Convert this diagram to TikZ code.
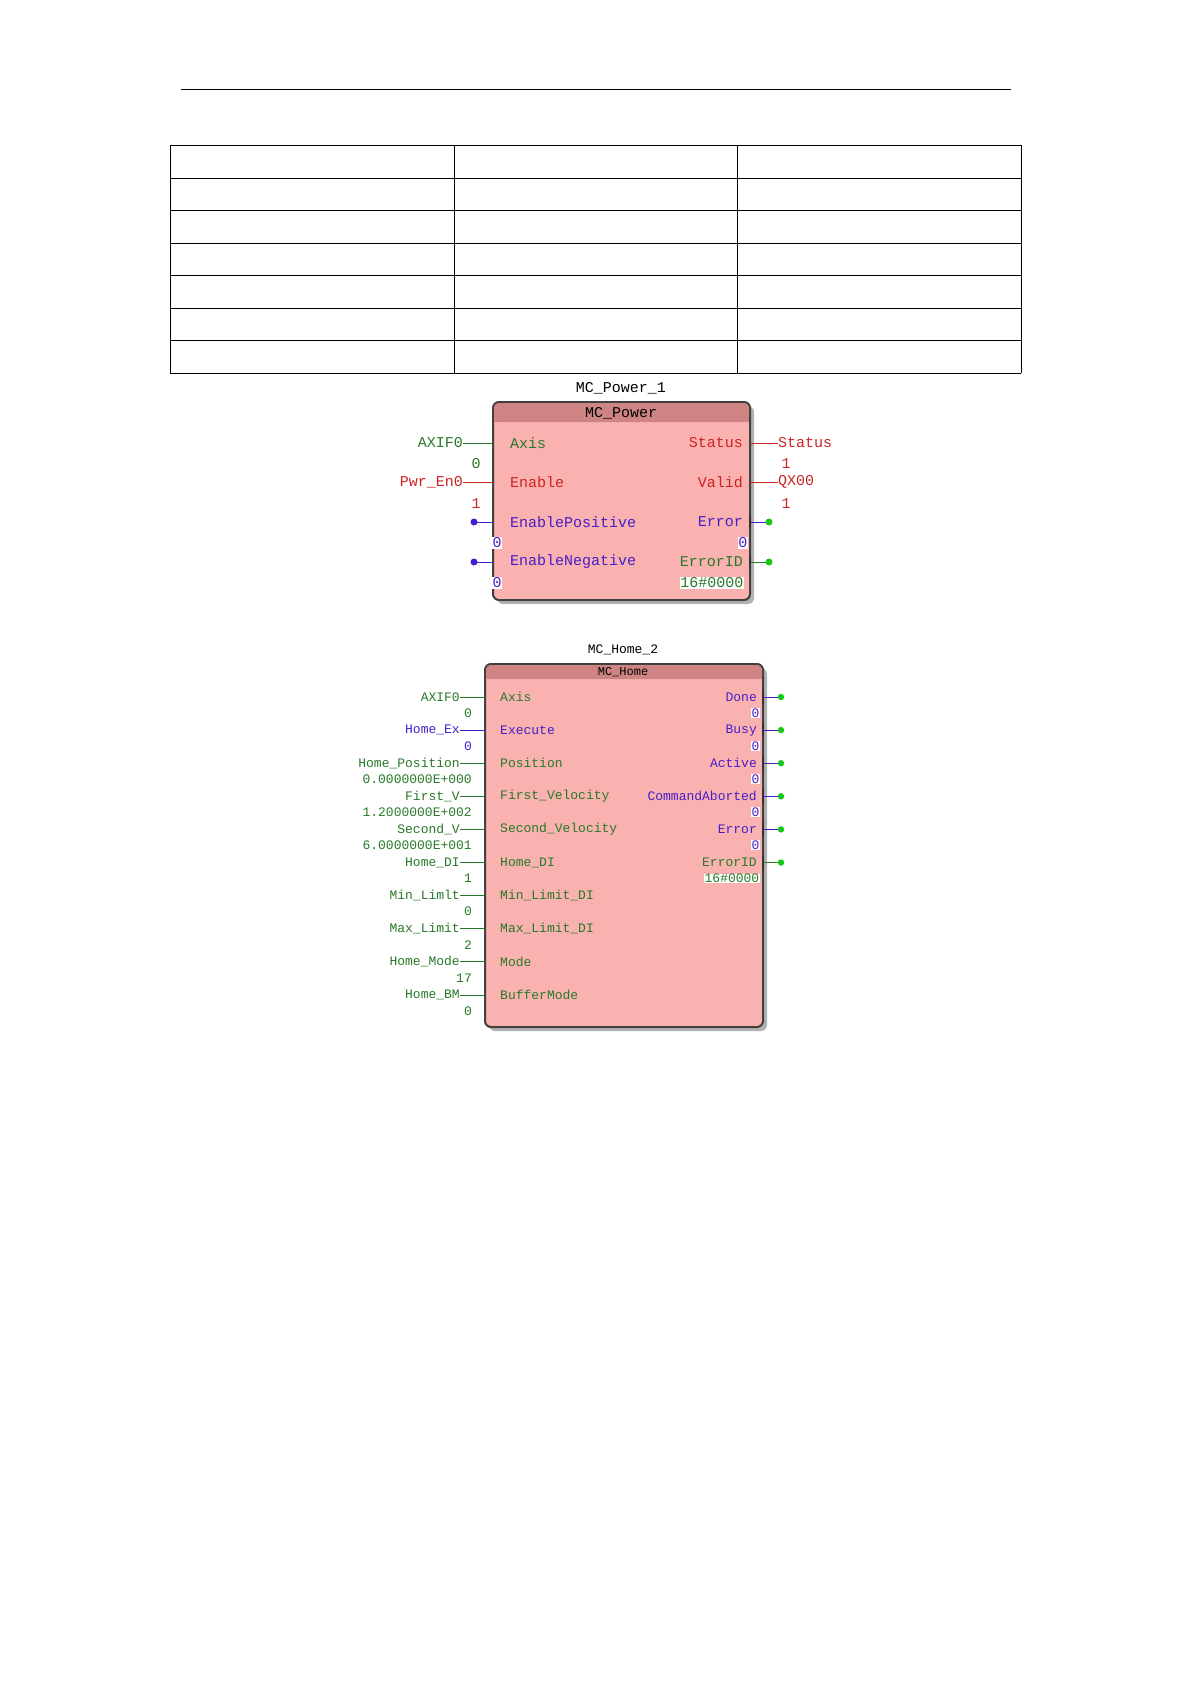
\documentclass[tikz,border=0pt]{standalone}
\usepackage{fontspec}
\setmainfont{Liberation Mono}
\usetikzlibrary{positioning}
\definecolor{fbpink}{RGB}{249,178,176}
\definecolor{fbhead}{RGB}{206,132,130}
\definecolor{fbgreen}{RGB}{40,120,40}
\definecolor{fbred}{RGB}{205,35,35}
\definecolor{fbblue}{RGB}{70,30,200}
\definecolor{fbdot}{RGB}{20,200,20}
\begin{document}
\begin{tikzpicture}[x=1pt,y=-1pt,
		txt/.style={inner sep=0pt, font=\fontsize{13}{13}\selectfont},
		big/.style={font=\fontsize{15}{15}\selectfont},
		pinl/.style={txt, anchor=west},
		pinr/.style={txt, anchor=east},
		val/.style={txt, anchor=east, fill=white, inner sep=0.5pt},
		fbox/.style={draw=black!75, line width=2pt, fill=fbpink, rounded corners=6pt},
		wire/.style={line width=0.8pt},
		]
		\useasboundingbox (0,0) rectangle (1191,1684);

		%Page line and table
		\draw[line width=0.6pt] (181,89) -- (1011,89);
		\foreach \y in {145,178,210,243,275,308,340,373}
			\draw[line width=0.8pt] (170,\y) -- (1021,\y);
		\foreach \x in {170,454,737,1021}
			\draw[line width=0.8pt] (\x,145) -- (\x,373);

		%MC_Power
		\fill[black!30, rounded corners=6pt] (497,406) rectangle (754,604);
		\draw[fbox] (493,402) rectangle (750,600);
		\fill[fbhead, rounded corners=5pt] (494,403) rectangle (749,422);
		\fill[fbhead] (494,412) rectangle (749,422);
		\node[txt, big]	(pw_name)	at (621,388)	{MC\_Power\_1};
		\node[txt, big]	(pw_type)	at (621,413)	{MC\_Power};

		\node[pinl, big, text=fbgreen]	(pw_axis)	at (510,443)	{Axis};
		\node[pinl, big, text=fbred]	(pw_en)		at (510,482)	{Enable};
		\node[pinl, big, text=fbblue]	(pw_ep)		at (510,522)	{EnablePositive};
		\node[pinl, big, text=fbblue]	(pw_en2)	at (510,562)	{EnableNegative};
		\node[pinr, big, text=fbred]	(pw_stat)	at (743,443)	{Status};
		\node[pinr, big, text=fbred]	(pw_valid)	at (743,482)	{Valid};
		\node[pinr, big, text=fbblue]	(pw_err)	at (743,522)	{Error};
		\node[pinr, big, text=fbgreen]	(pw_eid)	at (743,562)	{ErrorID};

		\coordinate (pw_l1) at (493,443);
		\coordinate (pw_l2) at (493,482);
		\coordinate (pw_l3) at (493,522);
		\coordinate (pw_l4) at (493,562);
		\coordinate (pw_r1) at (750,443);
		\coordinate (pw_r2) at (750,482);
		\coordinate (pw_r3) at (750,522);
		\coordinate (pw_r4) at (750,562);

		\node[pinr, big, text=fbgreen]	(axif_a)	at (463,443)	{AXIF0};
		\node[pinr, big, text=fbred]	(pwr_en)	at (463,482)	{Pwr\_En0};
		\node[pinl, big, text=fbred]	(st_var)	at (778,443)	{Status};
		\node[pinl, big, text=fbred]	(qx_var)	at (778,482)	{QX00};
		\coordinate (ep_dot) at (474,522);
		\coordinate (en_dot) at (474,562);
		\coordinate (er_dot) at (769,522);
		\coordinate (ei_dot) at (769,562);

		\draw[wire, fbgreen]	(axif_a.east) -- (pw_l1);
		\draw[wire, fbred]	(pwr_en.east) -- (pw_l2);
		\draw[wire, fbred]	(pw_r1) -- (st_var.west);
		\draw[wire, fbred]	(pw_r2) -- (qx_var.west);
		\draw[wire, fbblue]	(ep_dot) -- (pw_l3);
		\draw[wire, fbblue]	(en_dot) -- (pw_l4);
		\draw[wire, fbblue]	(pw_r3) -- (er_dot);
		\draw[wire, fbgreen]	(pw_r4) -- (ei_dot);
		\draw[line width=2.5pt, black!80] (750,515) -- (750,529) (750,555) -- (750,569);
		\fill[fbblue] (ep_dot) circle (3.5pt) (en_dot) circle (3.5pt);
		\fill[fbdot] (er_dot) circle (3.5pt) (ei_dot) circle (3.5pt);

		\node[txt, big, text=fbgreen]	(pw_v1)	at (476,464)	{0};
		\node[txt, big, text=fbred]	(pw_v2)	at (476,504)	{1};
		\node[txt, big, text=fbred]	(pw_v3)	at (786,464)	{1};
		\node[txt, big, text=fbred]	(pw_v4)	at (786,504)	{1};
		\node[val, big, text=fbblue, anchor=center]	(pw_v5)	at (497,543)	{0};
		\node[val, big, text=fbblue, anchor=center]	(pw_v6)	at (497,583)	{0};
		\node[val, big, text=fbblue]	(pw_v7)	at (748,543)	{0};
		\node[val, big, text=fbgreen]	(pw_v8)	at (744,583)	{16\#0000};

		%MC_Home
		\fill[black!30, rounded corners=6pt] (489,668) rectangle (767,1031);
		\draw[fbox] (485,664) rectangle (763,1027);
		\fill[fbhead, rounded corners=5pt] (486,665) rectangle (762,679);
		\fill[fbhead] (486,672) rectangle (762,679);
		\node[txt]	(hm_name)	at (623,650)	{MC\_Home\_2};
		\node[txt, font=\fontsize{12}{12}\selectfont]	(hm_type)	at (623,672)	{MC\_Home};

		\foreach \i/\pin/\var/\v/\c in {0/Axis/AXIF0/0/fbgreen, 1/Execute/Home\_Ex/0/fbblue,
				2/Position/Home\_Position/0.0000000E+000/fbgreen, 3/First\_Velocity/First\_V/1.2000000E+002/fbgreen,
				4/Second\_Velocity/Second\_V/6.0000000E+001/fbgreen, 5/Home\_DI/Home\_DI/1/fbgreen,
				6/Min\_Limit\_DI/Min\_Limlt/0/fbgreen, 7/Max\_Limit\_DI/Max\_Limit/2/fbgreen,
				8/Mode/Home\_Mode/17/fbgreen, 9/BufferMode/Home\_BM/0/fbgreen} {
			\pgfmathsetmacro{\y}{697+33.1*\i}
			\node[pinl, text=\c]	(hm_in\i)	at (500,\y)	{\pin};
			\node[pinr, text=\c]	(hm_var\i)	at (460,\y)	{\var};
			\node[pinr, text=\c]	(hm_val\i)	at (472,\y+16)	{\v};
			\coordinate (hm_l\i) at (485,\y);
			\draw[wire, \c] (hm_var\i.east) -- (hm_l\i);
		}

		\foreach \i/\pin/\v/\c in {0/Done/0/fbblue, 1/Busy/0/fbblue, 2/Active/0/fbblue,
				3/CommandAborted/0/fbblue, 4/Error/0/fbblue, 5/ErrorID/16\#0000/fbgreen} {
			\pgfmathsetmacro{\y}{697+33.1*\i}
			\node[pinr, text=\c]	(hm_out\i)	at (757,\y)	{\pin};
			\node[val, text=\c]	(hm_oval\i)	at (760,\y+16)	{\v};
			\coordinate (hm_r\i) at (763,\y);
			\coordinate (hm_dot\i) at (781,\y);
			\draw[line width=2.5pt, black!80] (763,\y-7) -- (763,\y+7);
			\draw[wire, \c] (hm_r\i) -- (hm_dot\i);
			\fill[fbdot] (hm_dot\i) circle (3.2pt);
		}
	\end{tikzpicture}
\end{document}
